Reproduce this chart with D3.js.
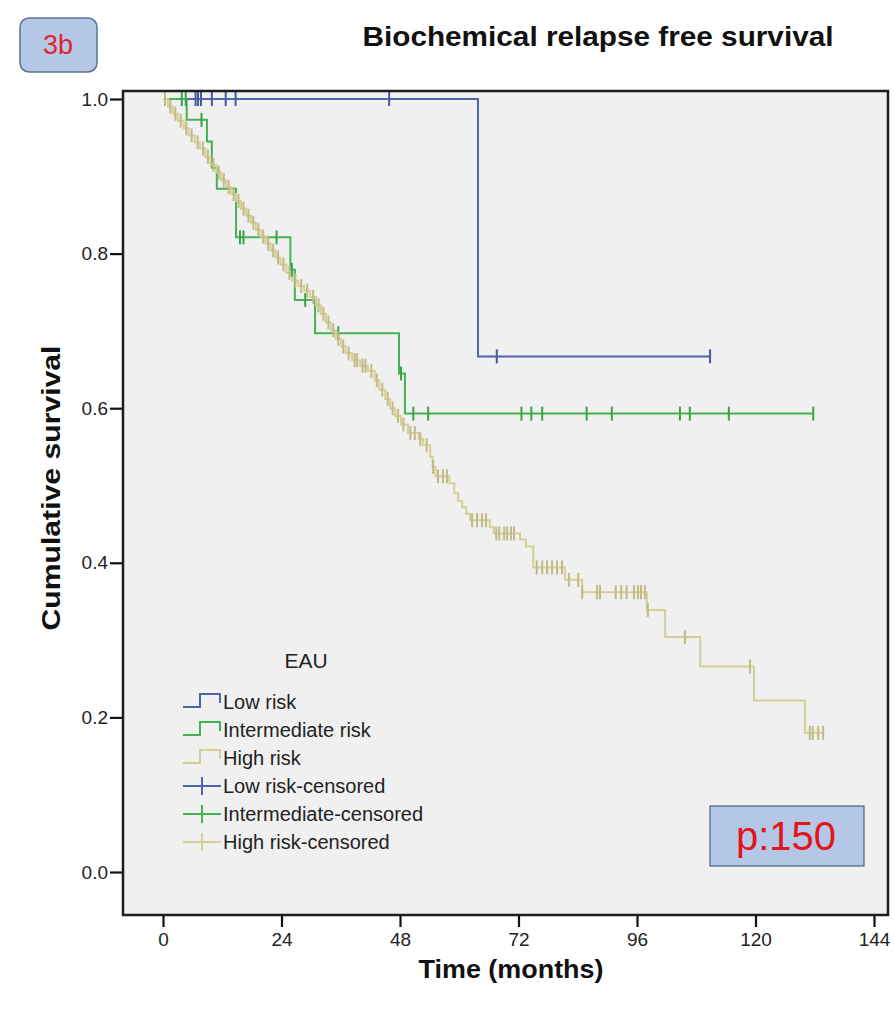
<!DOCTYPE html>
<html>
<head>
<meta charset="utf-8">
<script src="https://cdn.jsdelivr.net/npm/d3@7"></script>
<style>
  body { margin: 0; background: #fff; }
  svg { display: block; font-family: "Liberation Sans", Arial, sans-serif; }
</style>
</head>
<body>
<svg id="chart" width="894" height="1012"></svg>
<script>
// tick labels
const xTicks = [0, 24, 48, 72, 96, 120, 144];
const yTicks = [0, 0.2, 0.4, 0.6, 0.8, 1.0];

// Low risk: step times (months) and survival after each step
const lowTimes = [0, 63.8];
const lowSurv = [1, 0.667];
const lowEnd = 110.8;
const lowCensored = [6.6, 7.1, 7.7, 9.9, 12.7, 14.7, 45.8, 67.6, 110.8];

// Intermediate risk
const midTimes = [0, 4.8, 8.9, 9.9, 10.9, 14.8, 25.8, 26.7, 30.8, 47.8, 49.0];
const midSurv = [1, 0.973, 0.945, 0.911, 0.884, 0.821, 0.779, 0.74, 0.697, 0.645, 0.593];
const midEnd = 131.7;
const midCensored = [3.8, 4.6, 7.8, 15.6, 16.3, 23.0, 26.1, 28.8, 35.5, 48.2, 50.7, 53.7,
  72.6, 74.6, 76.8, 85.8, 90.9, 104.7, 106.7, 114.6, 131.7];

// High risk
const highTimes = [0, 1.0, 2.0, 3.0, 4.2, 5.2, 6.4, 7.5, 8.6, 9.6, 10.8, 11.8, 12.8, 13.8,
  14.8, 15.8, 16.8, 17.8, 18.8, 19.8, 20.8, 21.8, 22.8, 23.8, 25.0, 26.2, 27.4, 28.6, 29.8,
  31.0, 32.0, 33.0, 34.0, 35.0, 36.0, 37.0, 38.3, 39.9, 41.5, 42.9, 43.8, 45.0, 46.0, 47.0,
  48.2, 49.6, 51.8, 52.7, 54.1, 54.6, 55.2, 58.0, 59.0, 59.8, 60.6, 61.4, 62.2, 66.2, 67.0,
  72.3, 73.5, 75.0, 81.4, 84.9, 98.0, 101.7, 108.8, 119.7, 130.0];
const highSurv = [1, 0.99, 0.981, 0.972, 0.962, 0.953, 0.944, 0.936, 0.925, 0.915, 0.905,
  0.895, 0.886, 0.877, 0.868, 0.858, 0.849, 0.84, 0.831, 0.822, 0.813, 0.804, 0.795, 0.786,
  0.775, 0.765, 0.758, 0.752, 0.744, 0.733, 0.722, 0.711, 0.701, 0.69, 0.68, 0.671, 0.662,
  0.655, 0.648, 0.636, 0.624, 0.612, 0.6, 0.59, 0.579, 0.568, 0.56, 0.552, 0.537, 0.524,
  0.512, 0.503, 0.49, 0.48, 0.472, 0.463, 0.455, 0.446, 0.438, 0.43, 0.421, 0.394, 0.378,
  0.362, 0.339, 0.304, 0.266, 0.222, 0.18];
const highEnd = 133.7;
const highCensored = [0.4, 1.5, 2.5, 3.6, 4.7, 5.8, 7.0, 8.1, 9.1, 10.2, 11.3, 12.3, 13.3,
  14.3, 15.3, 16.3, 17.3, 18.3, 19.3, 20.3, 21.3, 22.3, 23.3, 24.4, 25.6, 26.8, 28.0, 29.2,
  30.4, 31.5, 32.5, 33.5, 34.5, 35.5, 36.5, 37.6, 38.8, 39.3, 40.4, 41.0, 42.2, 43.3, 44.4,
  45.5, 46.5, 47.6, 48.7, 50.1, 51.0, 52.1, 53.4, 54.7, 55.7, 56.7, 57.5, 62.6, 63.6, 64.6,
  65.4, 67.5, 68.1, 69.1, 69.7, 70.5, 71.1, 75.7, 76.8, 77.8, 78.8, 79.8, 80.8, 82.2, 84.1,
  84.9, 87.9, 88.5, 91.7, 92.8, 93.9, 95.4, 96.2, 96.8, 97.6, 98.2, 105.7, 118.9, 131.0,
  131.6, 132.7, 133.7];

const legendLabels = ["Low risk", "Intermediate risk", "High risk",
  "Low risk-censored", "Intermediate-censored", "High risk-censored"];

const blue = "#4f63ae", green = "#44b351", khaki = "#d6cf95";

const svg = d3.select("#chart");

const frame = { left: 123, top: 91, right: 888, bottom: 915 };
const x = d3.scaleLinear().domain([0, 144]).range([163, 874]);
const y = d3.scaleLinear().domain([0, 1]).range([872, 99]);

// plot background and frame
svg.append("rect")
  .attr("x", frame.left).attr("y", frame.top)
  .attr("width", frame.right - frame.left).attr("height", frame.bottom - frame.top)
  .attr("fill", "#f0f0f0");

// axes
const xAxis = svg.append("g")
  .attr("transform", `translate(0,${frame.bottom})`)
  .call(d3.axisBottom(x).tickValues(xTicks).tickSize(12).tickPadding(6));
const yAxis = svg.append("g")
  .attr("transform", `translate(${frame.left},0)`)
  .call(d3.axisLeft(y).tickValues(yTicks).tickSize(13).tickPadding(2).tickFormat(d3.format(".1f")));
[xAxis, yAxis].forEach((g) => {
  g.select(".domain").remove();
  g.selectAll("line").attr("stroke", "#111").attr("stroke-width", 2.2);
  g.selectAll("text").attr("fill", "#222").style("font-size", "19px")
    .style("font-family", "'Liberation Sans', Arial, sans-serif");
});

function survAt(times, surv, t) {
  const i = d3.bisectRight(times, t) - 1;
  return surv[Math.max(0, i)];
}

const line = d3.line()
  .x((d) => x(d[0]))
  .y((d) => y(d[1]))
  .curve(d3.curveStepAfter);

const groups = [
  { times: lowTimes, surv: lowSurv, end: lowEnd, cens: lowCensored, color: blue },
  { times: midTimes, surv: midSurv, end: midEnd, cens: midCensored, color: green },
  { times: highTimes, surv: highSurv, end: highEnd, cens: highCensored, color: khaki },
];

groups.forEach((g) => {
  const pts = g.times.map((t, i) => [t, g.surv[i]]);
  pts.push([g.end, g.surv[g.surv.length - 1]]);
  svg.append("path")
    .attr("d", line(pts))
    .attr("fill", "none")
    .attr("stroke", g.color)
    .attr("stroke-width", 2);
});

groups.forEach((g) => {
  svg.append("g")
    .selectAll("line")
    .data(g.cens)
    .join("line")
    .attr("x1", (d) => x(d)).attr("x2", (d) => x(d))
    .attr("y1", (d) => y(survAt(g.times, g.surv, d)) - 7)
    .attr("y2", (d) => y(survAt(g.times, g.surv, d)) + 7)
    .attr("stroke", d3.color(g.color).darker(0.3))
    .attr("stroke-width", 2);
});

svg.append("rect")
  .attr("x", frame.left).attr("y", frame.top)
  .attr("width", frame.right - frame.left).attr("height", frame.bottom - frame.top)
  .attr("fill", "none")
  .attr("stroke", "#1c1c1c")
  .attr("stroke-width", 2.5);

// legend
const legend = svg.append("g");
legend.append("text")
  .attr("x", 306).attr("y", 668)
  .attr("text-anchor", "middle")
  .style("font-size", "21px")
  .attr("fill", "#222")
  .text("EAU");

const colors = [blue, green, khaki, blue, green, khaki];
legendLabels.forEach((label, i) => {
  const ly = 702 + i * 28;
  if (i < 3) {
    legend.append("path")
      .attr("d", `M183,${ly + 5}H200V${ly - 8}H220V${ly + 1}`)
      .attr("fill", "none").attr("stroke", colors[i]).attr("stroke-width", 2);
  } else {
    legend.append("path")
      .attr("d", `M183,${ly}H221M202,${ly - 9}V${ly + 9}`)
      .attr("fill", "none").attr("stroke", colors[i]).attr("stroke-width", 2);
  }
  legend.append("text")
    .attr("x", 223).attr("y", ly + 7)
    .style("font-size", "20px")
    .attr("fill", "#222")
    .text(label);
});

// title and axis labels
svg.append("text")
  .attr("x", 598).attr("y", 46)
  .attr("text-anchor", "middle")
  .style("font-size", "27px").style("font-weight", "bold")
  .attr("textLength", 471).attr("lengthAdjust", "spacingAndGlyphs")
  .attr("fill", "#111")
  .text("Biochemical relapse free survival");

svg.append("text")
  .attr("transform", "translate(60,488) rotate(-90)")
  .attr("text-anchor", "middle")
  .style("font-size", "26px").style("font-weight", "bold")
  .attr("textLength", 285).attr("lengthAdjust", "spacingAndGlyphs")
  .attr("fill", "#111")
  .text("Cumulative survival");

svg.append("text")
  .attr("x", 511).attr("y", 978)
  .attr("text-anchor", "middle")
  .style("font-size", "26px").style("font-weight", "bold")
  .attr("textLength", 185).attr("lengthAdjust", "spacingAndGlyphs")
  .attr("fill", "#111")
  .text("Time (months)");

// panel label box
svg.append("rect")
  .attr("x", 20).attr("y", 18).attr("width", 77).attr("height", 54).attr("rx", 9)
  .attr("fill", "#b4c7e7").attr("stroke", "#5b7193").attr("stroke-width", 1.5);
svg.append("text")
  .attr("x", 58).attr("y", 54)
  .attr("text-anchor", "middle")
  .style("font-size", "27px")
  .attr("fill", "#e0242b")
  .text("3b");

// p value box
svg.append("rect")
  .attr("x", 710).attr("y", 806).attr("width", 154).attr("height", 60)
  .attr("fill", "#b4c7e7").attr("stroke", "#4d6385").attr("stroke-width", 1.2);
svg.append("text")
  .attr("x", 786).attr("y", 850)
  .attr("text-anchor", "middle")
  .style("font-size", "40px")
  .attr("fill", "#e3141c")
  .text("p:150");
</script>
</body>
</html>
